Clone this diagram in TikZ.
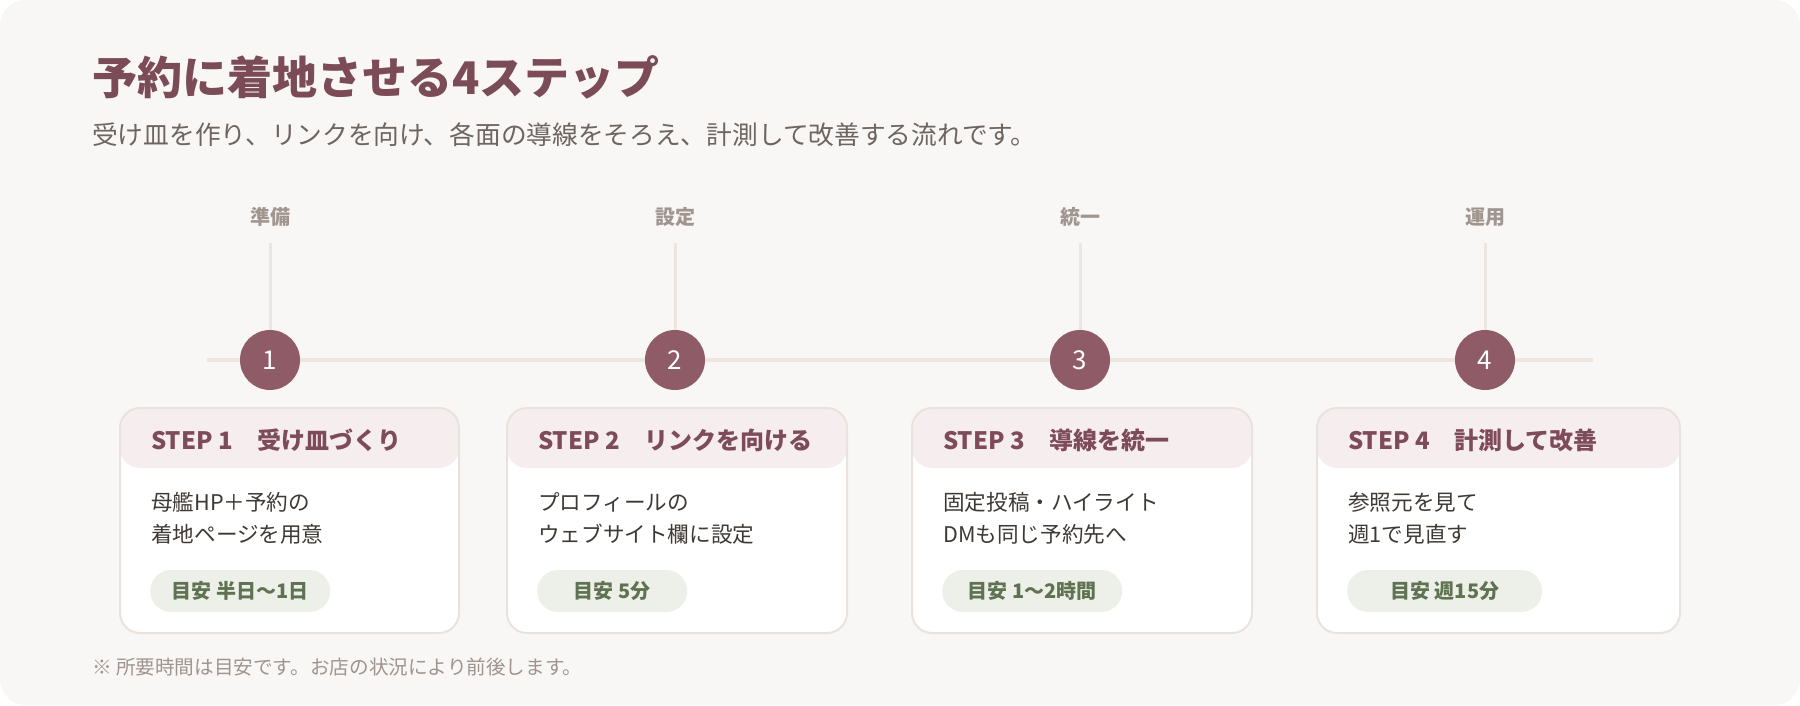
\documentclass[tikz,border=0pt]{standalone}
\usepackage{fontspec}
\setmainfont{Noto Sans CJK JP}
\definecolor{outerbg}{HTML}{FFFFFF}
\definecolor{bgc}{HTML}{F8F7F5}
\definecolor{titlec}{HTML}{7B4B58}
\definecolor{subc}{HTML}{6E6560}
\definecolor{phasec}{HTML}{A1958F}
\definecolor{tlc}{HTML}{EDE5E0}
\definecolor{circc}{HTML}{8E5B67}
\definecolor{headfill}{HTML}{F6EDEF}
\definecolor{headc}{HTML}{7D4B59}
\definecolor{bodyc}{HTML}{3E3935}
\definecolor{pillfill}{HTML}{EDF0E8}
\definecolor{pillc}{HTML}{5F7251}
\definecolor{footc}{HTML}{9F948E}
\definecolor{cardline}{HTML}{EAE2DC}
\tikzset{
  titletxt/.style={inner sep=0pt, anchor=west, text=titlec, font=\fontsize{45}{52}\selectfont\bfseries},
  subtxt/.style={inner sep=0pt, anchor=west, text=subc, font=\fontsize{25.7}{30}\selectfont},
  phase/.style={inner sep=0pt, text=phasec, font=\fontsize{20}{24}\selectfont\bfseries},
  tline/.style={draw=tlc, line width=4.5pt},
  vline/.style={draw=tlc, line width=3pt},
  stepcirc/.style={circle, fill=circc, minimum size=60pt, inner sep=0pt, text=white, font=\fontsize{26}{30}\selectfont},
  card/.style={draw=cardline, line width=2pt, fill=white, rounded corners=20pt, inner sep=0pt, outer sep=0pt, anchor=north west, minimum height=225pt,
    path picture={\fill[headfill] (path picture bounding box.north west) rectangle ([yshift=-60pt]path picture bounding box.north east);}},
  headtxt/.style={inner sep=0pt, anchor=west, text=headc, font=\fontsize{24}{28}\selectfont\bfseries},
  bodytxt/.style={inner sep=0pt, anchor=west, text=bodyc, font=\fontsize{21.6}{26}\selectfont},
  pill/.style={fill=pillfill, rounded corners=21pt, minimum height=42pt, inner sep=0pt, anchor=west, text=pillc, font=\fontsize{20}{24}\selectfont\bfseries},
  foottxt/.style={inner sep=0pt, anchor=west, text=footc, font=\fontsize{19.6}{23}\selectfont},
}
\newcommand\stepcard[8]{%
  \node[card, minimum width=#3pt] (#1) at (#2,408) {};
  \node[headtxt] (#1h) at ([shift={(31,32)}]#1.north west) {#4};
  \node[bodytxt] (#1a) at ([shift={(31,94)}]#1.north west) {#5};
  \node[bodytxt] (#1b) at ([shift={(31,126)}]#1.north west) {#6};
  \node[pill, minimum width=#7pt] (#1p) at ([shift={(30,183)}]#1.north west) {#8};
}
\begin{document}
\begin{tikzpicture}[x=1pt,y=-1pt]
\useasboundingbox (0,0) rectangle (1800,705);
\fill[outerbg] (0,0) rectangle (1800,705);
\fill[bgc, rounded corners=26pt] (0,0) rectangle (1800,705);

\node[titletxt] (title) at (92,77) {予約に着地させる4ステップ};
\node[subtxt] (sub) at (92,135) {受け皿を作り、リンクを向け、各面の導線をそろえ、計測して改善する流れです。};

\coordinate (tl) at (207,360);
\coordinate (tr) at (1593,360);
\draw[tline] (tl) -- (tr);

\node[stepcirc] (n1) at (270,360) {1};
\node[stepcirc] (n2) at (675,360) {2};
\node[stepcirc] (n3) at (1080,360) {3};
\node[stepcirc] (n4) at (1485,360) {4};

\node[phase] (l1) at (270,217) {準備};
\node[phase] (l2) at (675,217) {設定};
\node[phase] (l3) at (1080,217) {統一};
\node[phase] (l4) at (1485,217) {運用};

\coordinate (v1) at (270,243);
\coordinate (v2) at (675,243);
\coordinate (v3) at (1080,243);
\coordinate (v4) at (1485,243);
\draw[vline] (v1) -- (n1.north);
\draw[vline] (v2) -- (n2.north);
\draw[vline] (v3) -- (n3.north);
\draw[vline] (v4) -- (n4.north);

\stepcard{c1}{120}{339}{STEP 1　受け皿づくり}{母艦HP＋予約の}{着地ページを用意}{180}{目安 半日〜1日}
\stepcard{c2}{507}{340}{STEP 2　リンクを向ける}{プロフィールの}{ウェブサイト欄に設定}{150}{目安 5分}
\stepcard{c3}{912}{340}{STEP 3　導線を統一}{固定投稿・ハイライト}{DMも同じ予約先へ}{180}{目安 1〜2時間}
\stepcard{c4}{1317}{363}{STEP 4　計測して改善}{参照元を見て}{週1で見直す}{195}{目安 週15分}

\node[foottxt] (foot) at (92,667) {※ 所要時間は目安です。お店の状況により前後します。};
\end{tikzpicture}
\end{document}
